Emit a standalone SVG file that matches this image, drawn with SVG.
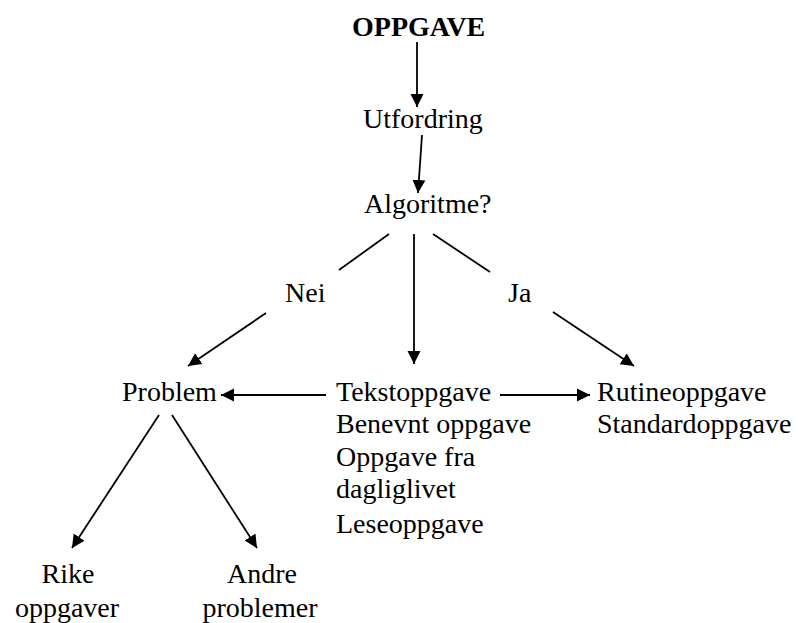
<svg xmlns="http://www.w3.org/2000/svg" width="798" height="623" viewBox="0 0 798 623">
<defs>
<style>
text{font-family:'Liberation Serif','Times New Roman',Tinos,'DejaVu Serif',serif;font-size:28px;fill:#000}
.b{font-weight:bold}
.c{text-anchor:middle}
line{stroke:#000;stroke-width:1.8}
</style>
<marker id="ah" markerUnits="userSpaceOnUse" markerWidth="14" markerHeight="14" viewBox="0 0 14 14" refX="13" refY="7" orient="auto">
<path d="M0,0.5 L13,7 L0,13.5 Z" fill="#000"/>
</marker>
</defs>
<rect width="798" height="623" fill="#fff"/>
<g id="connectors">
<line x1="417" y1="42" x2="417" y2="107" marker-end="url(#ah)"/>
<line x1="422" y1="135" x2="418" y2="193" marker-end="url(#ah)"/>
<line x1="389" y1="234" x2="339" y2="270"/>
<line x1="414" y1="234" x2="414" y2="364" marker-end="url(#ah)"/>
<line x1="433" y1="234" x2="490" y2="272"/>
<line x1="266" y1="313" x2="188" y2="366" marker-end="url(#ah)"/>
<line x1="553" y1="312" x2="634" y2="366" marker-end="url(#ah)"/>
<line x1="326" y1="395" x2="221" y2="395" marker-end="url(#ah)"/>
<line x1="500" y1="395" x2="590" y2="395" marker-end="url(#ah)"/>
<line x1="159" y1="415" x2="72" y2="548" marker-end="url(#ah)"/>
<line x1="172" y1="415" x2="257" y2="548" marker-end="url(#ah)"/>
</g>
<g font-family="Liberation Serif, Times New Roman, serif">
<g id="oppgave"><text class="b" x="352" y="36">OPPGAVE</text></g>
<g id="utfordring"><text x="363" y="128">Utfordring</text></g>
<g id="algoritme"><text x="364" y="213">Algoritme?</text></g>
<g id="nei"><text x="285" y="302">Nei</text></g>
<g id="ja"><text x="508" y="302">Ja</text></g>
<g id="problem"><text x="122" y="401">Problem</text></g>
<g id="tekstoppgave">
<text x="336" y="401">Tekstoppgave</text>
<text x="336" y="433">Benevnt oppgave</text>
<text x="336" y="466">Oppgave fra</text>
<text x="336" y="498">dagliglivet</text>
<text x="336" y="533">Leseoppgave</text>
</g>
<g id="rutineoppgave">
<text x="597" y="401">Rutineoppgave</text>
<text x="597" y="433">Standardoppgave</text>
</g>
<g id="rike">
<text class="c" x="68" y="583">Rike</text>
<text class="c" x="67" y="617">oppgaver</text>
</g>
<g id="andre">
<text class="c" x="262" y="583">Andre</text>
<text class="c" x="260" y="617">problemer</text>
</g>
</g>
</svg>
